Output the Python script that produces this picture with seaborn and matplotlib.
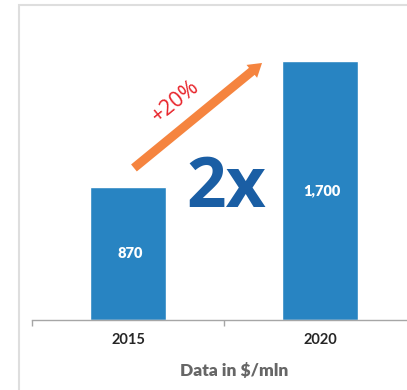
import matplotlib
matplotlib.use("Agg")
import matplotlib.pyplot as plt
import seaborn as sns
import pandas as pd
from matplotlib.patches import Rectangle

years = ["2015", "2020"]
values = [870, 1700]
value_labels = ["870", "1,700"]
growth_label = "+20%"
multiple_label = "2x"
axis_title = "Data in $/mln"

sns.set_theme(style="white")
plt.rcParams["font.family"] = ["Lato", "DejaVu Sans"]

W, H = 407, 390
fig = plt.figure(figsize=(W / 100, H / 100), dpi=100)
ax = fig.add_axes([32 / W, 70 / H, 384 / W, 304.7 / H])

df = pd.DataFrame({"year": years, "value": values})
sns.barplot(data=df, x="year", y="value", color="#2884C2", saturation=1,
            width=0.4, ax=ax)
ax.set_xlim(-0.5, 1.5)
ax.set_ylim(0, 2000)

for sp in ["left", "top", "right"]:
    ax.spines[sp].set_visible(False)
ax.spines["bottom"].set_color("#a6a6a6")
ax.spines["bottom"].set_linewidth(1.0)
ax.set_yticks([])
ax.set_xticks([0, 1])
ax.set_xticklabels(years, fontsize=10.5, fontweight="bold", color="#262626")
ax.tick_params(axis="x", which="major", length=0, pad=9)
ax.set_xticks([-0.5, 0.5, 1.5], minor=True)
ax.tick_params(axis="x", which="minor", length=4, color="#a6a6a6", width=1.0,
               direction="out", bottom=True)
ax.set_xlabel("")
ax.set_ylabel("")

for i, (v, lab) in enumerate(zip(values, value_labels)):
    ax.text(i + 0.01, v / 2, lab, ha="center", va="center", color="white",
            fontsize=10.5, fontweight="heavy")

ax.annotate("", xy=(0.698, 1687), xytext=(0.031, 998),
            arrowprops=dict(arrowstyle="simple,head_length=0.95,head_width=1.2,tail_width=0.65",
                            mutation_scale=10, color="#F5843F", shrinkA=0, shrinkB=0, lw=0))

ax.text(0.25, 1435, growth_label, rotation=39, ha="center", va="center",
        color="#E8242B", fontsize=15.5, family=["Open Sans", "DejaVu Sans"],
        rotation_mode="anchor")

ax.text(0.513, 742, multiple_label, ha="center", va="baseline",
        color="#1A5EA4", fontsize=50, fontweight="bold",
        family=["Open Sans", "DejaVu Sans"])

fig.text(234 / W, 1 - 371 / H, axis_title, ha="center", va="center",
         color="#666666", fontsize=12.5, fontweight="heavy")

fig.patches.append(Rectangle((19 / W, -0.1), 2, 385 / H + 0.1,
                             transform=fig.transFigure, fill=False,
                             edgecolor="#dedede", linewidth=1.5))

fig.savefig("out.png", dpi=100)
